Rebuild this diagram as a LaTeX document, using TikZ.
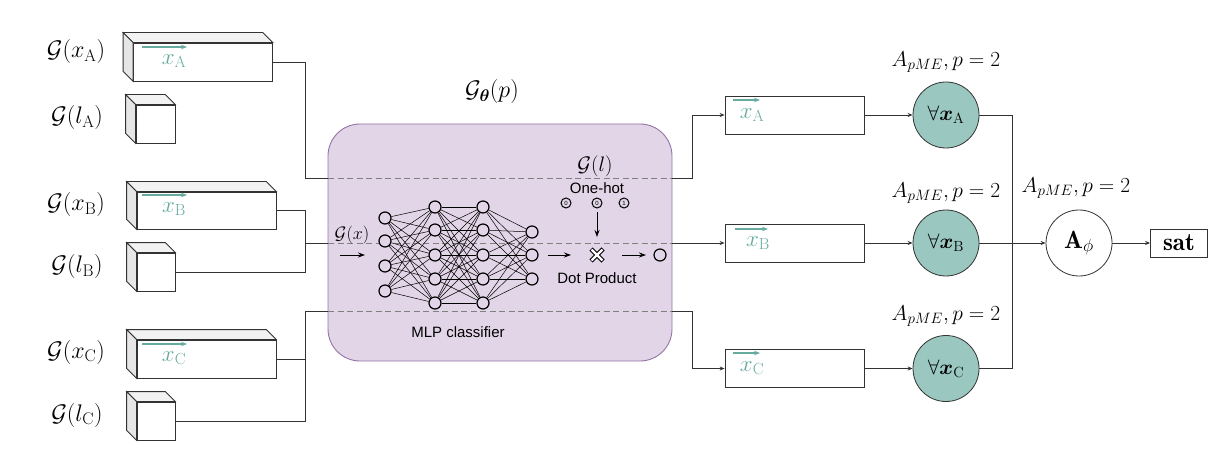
\RequirePackage{fix-cm}
\documentclass[tikz,border=0pt]{standalone}
\usepackage{amsmath,amssymb,bm}
\usepackage{fontspec}
\newfontfamily\helv{Liberation Sans}
\usetikzlibrary{arrows.meta,calc}
\definecolor{lineC}{HTML}{333333}
\definecolor{dashC}{HTML}{808080}
\definecolor{teal}{HTML}{67AB9F}
\definecolor{qfill}{HTML}{9AC7BF}
\definecolor{pfill}{HTML}{E1D5E7}
\definecolor{pdraw}{HTML}{9673A6}
\definecolor{topface}{HTML}{F2F2F2}
\definecolor{sideface}{HTML}{E6E6E6}
\newcommand\leftfnt{\fontsize{24}{28}\selectfont}
\newcommand\bigfnt{\fontsize{21.5}{26}\selectfont}
\newcommand\qfnt{\fontsize{21}{25}\selectfont}
\newcommand\tealfnt{\fontsize{23}{27}\selectfont}
\newcommand\sansfnt{\helv\fontsize{15}{18}\selectfont}
\newcommand\cuboid[1]{%
  \filldraw[draw=lineC, line width=0.8pt, fill=topface] (#1.north west) -- ++(-10,-10) -- ([shift={(-10,-10)}]#1.north east) -- (#1.north east) -- cycle;
  \filldraw[draw=lineC, line width=0.8pt, fill=sideface] (#1.north west) -- ++(-10,-10) -- ([shift={(-10,-10)}]#1.south west) -- (#1.south west) -- cycle;}
\begin{document}
\begin{tikzpicture}[x=1pt,y=-1pt,
  line/.style={draw=lineC, line width=0.9pt},
  arr/.style={line, -{Stealth[length=5pt,width=4pt]}},
  bigarr/.style={draw=black, line width=1pt, -{Stealth[length=7pt,width=5pt]}},
  tarr/.style={draw=teal, line width=1.2pt, -{Stealth[length=6pt,width=4.5pt]}},
  dashline/.style={draw=dashC, line width=0.9pt, dash pattern=on 6pt off 3.5pt},
  lab/.style={inner sep=0pt, font=\bigfnt},
  leftlab/.style={inner sep=0pt, font=\leftfnt},
  front/.style={draw=lineC, line width=0.8pt, fill=white, inner sep=0pt},
  rbox/.style={draw=lineC, line width=0.8pt, fill=white, inner sep=0pt, minimum width=139pt, minimum height=38pt},
  tlab/.style={inner sep=0pt, text=teal, font=\tealfnt},
  qc/.style={circle, draw=lineC, line width=0.8pt, fill=qfill, minimum size=66pt, inner sep=0pt, font=\qfnt},
  neuron/.style={circle, draw=black, line width=1.2pt, fill=pfill, minimum size=12pt, inner sep=0pt},
  nnedge/.style={draw=black, line width=0.5pt},
  ohc/.style={circle, draw=black, line width=1pt, minimum size=10pt, inner sep=0pt, font=\helv\fontsize{6}{6}\selectfont},
  sans/.style={inner sep=0pt, font=\sansfnt}
]
\useasboundingbox (0,0) rectangle (1230,454);

% left labels
\node[leftlab] (gxA) at (76,52) {$\mathcal{G}(x_{\mathrm{A}})$};
\node[leftlab] (glA) at (77,118) {$\mathcal{G}(l_{\mathrm{A}})$};
\node[leftlab] (gxB) at (76,205) {$\mathcal{G}(x_{\mathrm{B}})$};
\node[leftlab] (glB) at (77,267) {$\mathcal{G}(l_{\mathrm{B}})$};
\node[leftlab] (gxC) at (76,352) {$\mathcal{G}(x_{\mathrm{C}})$};
\node[leftlab] (glC) at (77,415) {$\mathcal{G}(l_{\mathrm{C}})$};

% cuboids
\node[front, minimum width=139pt, minimum height=38pt] (xA) at (203,62) {};
\node[front, minimum width=39pt, minimum height=38pt] (lA) at (155.5,124) {};
\node[front, minimum width=139pt, minimum height=37pt] (xB) at (206.5,210.5) {};
\node[front, minimum width=38pt, minimum height=38pt] (lB) at (156,272) {};
\node[front, minimum width=139pt, minimum height=38pt] (xC) at (206.5,359) {};
\node[front, minimum width=38pt, minimum height=38pt] (lC) at (156,421) {};
\cuboid{xA}\cuboid{lA}\cuboid{xB}\cuboid{lB}\cuboid{xC}\cuboid{lC}

% teal labels in left boxes
\coordinate (tAs) at (142,47); \coordinate (tAe) at (187,47);
\draw[tarr] (tAs) -- (tAe);
\node[tlab] (txA) at (174,61) {$x_{\mathrm{A}}$};
\coordinate (tBs) at (142,195); \coordinate (tBe) at (187,195);
\draw[tarr] (tBs) -- (tBe);
\node[tlab] (txB) at (174,209) {$x_{\mathrm{B}}$};
\coordinate (tCs) at (142,344); \coordinate (tCe) at (187,344);
\draw[tarr] (tCs) -- (tCe);
\node[tlab] (txC) at (174,358) {$x_{\mathrm{C}}$};

% purple box
\node[draw=pdraw, fill=pfill, line width=0.9pt, rounded corners=32pt, minimum width=344pt, minimum height=237pt, inner sep=0pt] (mlpbox) at (500,242.5) {};
\node[inner sep=0pt, font=\fontsize{24}{28}\selectfont] (title) at (492,92) {$\mathcal{G}_{\boldsymbol{\theta}}(p)$};

% bus coordinates
\coordinate (busA) at (305,178); \coordinate (inA) at (328,178); \coordinate (outA) at (672,178); \coordinate (turnA) at (692,178);
\coordinate (busB) at (305,243); \coordinate (inB) at (328,243); \coordinate (outB) at (672,243);
\coordinate (busC) at (305,311); \coordinate (inC) at (328,311); \coordinate (outC) at (672,311); \coordinate (turnC) at (692,311);

% right boxes
\node[rbox] (xAr) at (794.5,115) {};
\node[rbox] (xBr) at (794.5,243) {};
\node[rbox] (xCr) at (794.5,368.5) {};

% left connectors
\draw[line] (xA.east) -| (busA);
\draw[line] ($(lA.east)+(0,-5)$) -- ($(lA.east)+(0,-5)$ -| busA);
\draw[line] (busA) -- (inA);
\draw[line] (xB.east) -| (busB);
\draw[line] (lB.east) -| (busB);
\draw[line] (busB) -- (inB);
\draw[line] (xC.east) -| (busC);
\draw[line] (lC.east) -| (busC);
\draw[line] (busC) -- (inC);
\draw[dashline] (inA) -- (outA);
\draw[dashline] (inB) -- (outB);
\draw[dashline] (inC) -- (outC);
\draw[arr] (outA) -- (turnA) |- (xAr.west);
\draw[arr] (outB) -- (xBr.west);
\draw[arr] (outC) -- (turnC) |- (xCr.west);

% neural network
\foreach \y [count=\i] in {218,241,266,291} \node[neuron] (a\i) at (385,\y) {};
\foreach \y [count=\i] in {207,230,255,279,303} \node[neuron] (b\i) at (435,\y) {};
\foreach \y [count=\i] in {207,230,255,279,303} \node[neuron] (c\i) at (483,\y) {};
\foreach \y [count=\i] in {232,255,279} \node[neuron] (d\i) at (532,\y) {};
\foreach \i in {1,...,4} \foreach \j in {1,...,5} \draw[nnedge] (a\i) -- (b\j);
\foreach \i in {1,...,5} \foreach \j in {1,...,5} \draw[nnedge] (b\i) -- (c\j);
\foreach \i in {1,...,5} \foreach \j in {1,...,3} \draw[nnedge] (c\i) -- (d\j);

\node[inner sep=0pt, font=\fontsize{18}{22}\selectfont] (gx) at (352,235) {$\mathcal{G}(x)$};
\coordinate (gxs) at (340,255); \coordinate (gxe) at (365,255);
\draw[bigarr] (gxs) -- (gxe);
\node[sans] (mlp) at (458,332) {MLP classifier};

% dot product
\node[minimum size=16pt, inner sep=0pt] (cross) at (597,255) {};
\draw[black, line width=4.4pt] (cross.center) ++(-6,-6) -- ++(12,12);
\draw[black, line width=4.4pt] (cross.center) ++(-6,6) -- ++(12,-12);
\draw[white, line width=2.4pt] (cross.center) ++(-5.4,-5.4) -- ++(10.8,10.8);
\draw[white, line width=2.4pt] (cross.center) ++(-5.4,5.4) -- ++(10.8,-10.8);
\node[circle, draw=black, line width=1.2pt, minimum size=12pt, inner sep=0pt] (out) at (660,255) {};
\coordinate (d1s) at (548,255); \coordinate (d1e) at (571,255);
\draw[bigarr] (d1s) -- (d1e);
\coordinate (d2s) at (622,255); \coordinate (d2e) at (646,255);
\draw[bigarr] (d2s) -- (d2e);
\node[sans] (dpl) at (597,278) {Dot Product};
\node[inner sep=0pt, font=\fontsize{21}{25}\selectfont] (gl) at (595,166) {$\mathcal{G}(l)$};
\node[sans] (oneh) at (597,188) {One-hot};
\node[ohc] (oh1) at (566,203) {0};
\node[ohc] (oh2) at (597,203) {0};
\node[ohc] (oh3) at (624,203) {1};
\coordinate (ohs) at (597,212); \coordinate (ohe) at (597,237);
\draw[bigarr] (ohs) -- (ohe);

% teal labels in right boxes
\coordinate (rAs) at (733,100); \coordinate (rAe) at (760,100);
\draw[tarr] (rAs) -- (rAe);
\node[tlab] (rxA) at (752,115) {$x_{\mathrm{A}}$};
\coordinate (rBs) at (735,229); \coordinate (rBe) at (768,229);
\draw[tarr] (rBs) -- (rBe);
\node[tlab] (rxB) at (758,243) {$x_{\mathrm{B}}$};
\coordinate (rCs) at (733,353); \coordinate (rCe) at (760,353);
\draw[tarr] (rCs) -- (rCe);
\node[tlab] (rxC) at (752,368) {$x_{\mathrm{C}}$};

% quantifier circles
\node[qc] (qA) at (946,115) {$\forall\boldsymbol{x}_{\mathrm{A}}$};
\node[qc] (qB) at (946,243) {$\forall\boldsymbol{x}_{\mathrm{B}}$};
\node[qc] (qC) at (946,368.5) {$\forall\boldsymbol{x}_{\mathrm{C}}$};
\node[lab] (pA) at (946,62) {$A_{pME}, p=2$};
\node[lab] (pB) at (946,193) {$A_{pME}, p=2$};
\node[lab] (pC) at (946,316) {$A_{pME}, p=2$};
\draw[arr] (xAr.east) -- (qA.west);
\draw[arr] (xBr.east) -- (qB.west);
\draw[arr] (xCr.east) -- (qC.west);

\coordinate (busR) at (1012,243);
\node[circle, draw=lineC, line width=0.8pt, fill=white, minimum size=66pt, inner sep=0pt, font=\fontsize{25}{29}\selectfont] (phi) at (1079,243) {$\mathbf{A}_{\phi}$};
\node[lab] (pphi) at (1076,188) {$A_{pME}, p=2$};
\node[draw=lineC, line width=0.8pt, fill=white, minimum width=57pt, minimum height=28pt, inner sep=0pt, font=\fontsize{25}{29}\selectfont] (sat) at (1179,243) {$\mathbf{sat}$};
\draw[line] (qA.east) -| (busR);
\draw[line] (qC.east) -| (busR);
\draw[arr] (qB.east) -- (phi.west);
\draw[arr] (phi.east) -- (sat.west);
\end{tikzpicture}
\end{document}
